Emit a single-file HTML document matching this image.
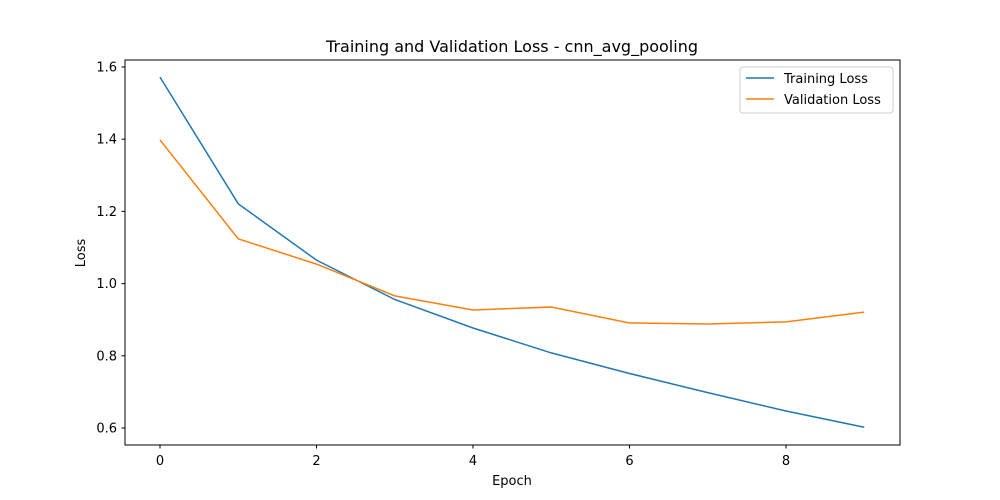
<!DOCTYPE html>
<html><head><meta charset="utf-8"><style>
body{margin:0;background:#fff;}
svg{display:block;font-family:"DejaVu Sans","Liberation Sans",sans-serif;}
</style></head><body>
<svg id="chart" width="1000" height="500" viewBox="0 0 1000 500">
<rect x="0" y="0" width="1000" height="500" fill="#fff"/>
<text x="512" y="52" font-size="16" text-anchor="middle">Training and Validation Loss - cnn_avg_pooling</text>
<g id="axes"></g>
<g id="series"></g>
<rect x="125" y="60" width="775" height="385" fill="none" stroke="#000" stroke-width="1"/>
<text x="512" y="485" font-size="13" text-anchor="middle">Epoch</text>
<text x="85" y="253" font-size="13" text-anchor="middle" transform="rotate(-90 85 253)">Loss</text>
<g>
<rect x="740" y="67" width="153" height="46" fill="#fff" stroke="#ccc" rx="3"/>
<line x1="746" y1="78" x2="774" y2="78" stroke="#1f77b4" stroke-width="1.5"/>
<text x="784" y="83" font-size="13">Training Loss</text>
<line x1="746" y1="99" x2="774" y2="99" stroke="#ff7f0e" stroke-width="1.5"/>
<text x="784" y="104" font-size="13">Validation Loss</text>
</g>
</svg>
<script>
const epochs=[0,1,2,3,4,5,6,7,8,9];
const trainLoss=[1.572,1.221,1.065,0.956,0.877,0.808,0.751,0.698,0.647,0.602];
const valLoss=[1.398,1.124,1.054,0.966,0.927,0.935,0.891,0.888,0.894,0.921];
const xTicks=[0,2,4,6,8];
const yTicks=[0.6,0.8,1.0,1.2,1.4,1.6];
const NS="http://www.w3.org/2000/svg";
const xs=v=>160+v*78.25;
const ys=v=>428-(v-0.6)*361;
const axes=document.getElementById('axes');
function mk(tag,attrs){const e=document.createElementNS(NS,tag);for(const k in attrs)e.setAttribute(k,attrs[k]);return e;}
xTicks.forEach(t=>{
 const l=mk('line',{x1:xs(t),x2:xs(t),y1:445,y2:448.5,stroke:'#000'});
 
 
 axes.appendChild(l);
 const tx=mk('text',{x:xs(t),y:465,'font-size':13,'text-anchor':'middle'});
 tx.textContent=t;
 
 
 axes.appendChild(tx);
});
yTicks.forEach(t=>{
 const l=mk('line',{x1:121.5,x2:125,y1:ys(t),y2:ys(t),stroke:'#000'});
 
 
 axes.appendChild(l);
 const tx=mk('text',{x:117,y:ys(t)+4.5,'font-size':13,'text-anchor':'end'});
 tx.textContent=t.toFixed(1);
 
 
 axes.appendChild(tx);
});
const sg=document.getElementById('series');
function line(vals,color,name){
 const p=mk('polyline',{points:vals.map((v,i)=>xs(epochs[i])+','+ys(v)).join(' '),fill:'none',stroke:color,'stroke-width':1.5});
 
 
 sg.appendChild(p);
}
line(trainLoss,'#1f77b4','training-loss-line');
line(valLoss,'#ff7f0e','validation-loss-line');
</script>
</body></html>
